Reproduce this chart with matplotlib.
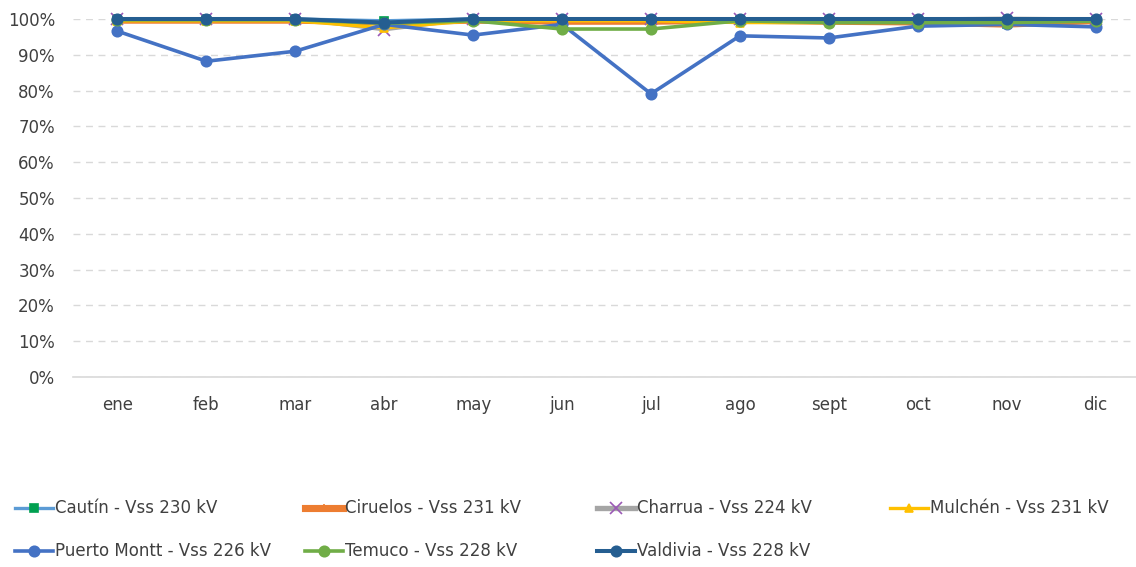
import matplotlib
matplotlib.use("Agg")
import matplotlib.pyplot as plt
from matplotlib.lines import Line2D
import numpy as np

plt.rcParams['font.family'] = ['Liberation Sans Narrow', 'DejaVu Sans']

months = ['ene', 'feb', 'mar', 'abr', 'may', 'jun', 'jul', 'ago', 'sept', 'oct', 'nov', 'dic']

cautin = [100, 100, 100, 99.5, 100, 99.8, 99.8, 99.8, 99.5, 99.5, 98.5, 99.5]
ciruelos = [99.3, 99.3, 99.3, 98.8, 99.3, 99.0, 99.0, 99.3, 99.0, 98.8, 98.2, 99.2]
charrua = [100, 100, 100, 97.0, 100, 100, 100, 100, 100, 100, 100.2, 100]
mulchen = [99.5, 99.5, 99.5, 97.5, 99.5, 99.5, 99.5, 99.0, 99.0, 99.3, 99.3, 99.6]
puerto_montt = [96.6, 88.2, 91.0, 98.5, 95.5, 98.5, 79.1, 95.3, 94.7, 98.0, 98.5, 97.8]
temuco = [99.8, 99.8, 99.8, 98.8, 99.5, 97.2, 97.2, 99.5, 99.0, 99.0, 99.0, 99.4]
valdivia = [100, 100, 100, 99.0, 100, 100, 100, 100, 100, 100, 100, 100]

labels = ['Cautín - Vss 230 kV', 'Ciruelos - Vss 231 kV', 'Charrua - Vss 224 kV',
          'Mulchén - Vss 231 kV', 'Puerto Montt - Vss 226 kV', 'Temuco - Vss 228 kV',
          'Valdivia - Vss 228 kV']
series = [cautin, ciruelos, charrua, mulchen, puerto_montt, temuco, valdivia]

# line colour, line width, marker, marker face, marker edge, marker size
styles = [
    ('#5B9BD5', 2.4, 's', '#00A050', '#00A050', 6),
    ('#ED7D31', 3.2, '+', '#ED7D31', '#ED7D31', 6),
    ('#A5A5A5', 2.4, 'x', '#9B59B6', '#9B59B6', 8),
    ('#FFC000', 2.4, '^', '#FFC000', '#FFC000', 6),
    ('#4472C4', 2.6, 'o', '#4472C4', '#4472C4', 7.5),
    ('#70AD47', 2.6, 'o', '#70AD47', '#70AD47', 7.5),
    ('#255E91', 2.9, 'o', '#255E91', '#255E91', 7.5),
]

W, H = 1136, 567
fig = plt.figure(figsize=(W / 100, H / 100), dpi=100)
ax = fig.add_axes([73 / W, (H - 377) / H, (W - 73) / W, 358 / H])

x = np.arange(len(months))
for vals, lab, st in zip(series, labels, styles):
    c, lw, m, mf, me, ms = st
    ax.plot(x, vals, color=c, lw=lw, marker=m, markerfacecolor=mf,
            markeredgecolor=me, markersize=ms, markeredgewidth=1.2,
            label=lab, clip_on=False, solid_capstyle='round')

ax.set_ylim(0, 100)
ax.set_xlim(-0.5, 11.5 - 4 / 88.9)
ax.set_yticks(np.arange(0, 101, 10))
ax.set_yticklabels([f"{v}%" for v in range(0, 101, 10)])
ax.set_xticks(x)
ax.set_xticklabels(months)
ax.tick_params(axis='both', length=0, labelsize=12, colors='#404040')
ax.tick_params(axis='y', pad=13)
ax.tick_params(axis='x', pad=14)
for s in ['top', 'right', 'left']:
    ax.spines[s].set_visible(False)
ax.spines['bottom'].set_color('#D9D9D9')
ax.spines['bottom'].set_linewidth(1.2)
ax.grid(axis='y', color='#D9D9D9', linestyle=(0, (5, 4)), lw=1)
ax.set_axisbelow(True)

# legend, laid out like the excel one
col_x = [15, 305, 597, 890]
row_y = [508, 551]
for i, (lab, st) in enumerate(zip(labels, styles)):
    c, lw, m, mf, me, ms = st
    x0 = col_x[i % 4]
    y0 = H - row_y[i // 4]
    leg_lw = lw * 1.6 if i in (1, 2) else lw
    fig.add_artist(Line2D([x0 / W, (x0 + 38) / W], [y0 / H, y0 / H], color=c, lw=leg_lw,
                          transform=fig.transFigure))
    fig.add_artist(Line2D([(x0 + 19) / W], [y0 / H], marker=m, markerfacecolor=mf,
                          markeredgecolor=me, markersize=ms, markeredgewidth=1.2,
                          transform=fig.transFigure))
    fig.text((x0 + 40) / W, y0 / H, lab, ha='left', va='center', fontsize=12, color='#404040')

fig.savefig("out.png", dpi=100)
